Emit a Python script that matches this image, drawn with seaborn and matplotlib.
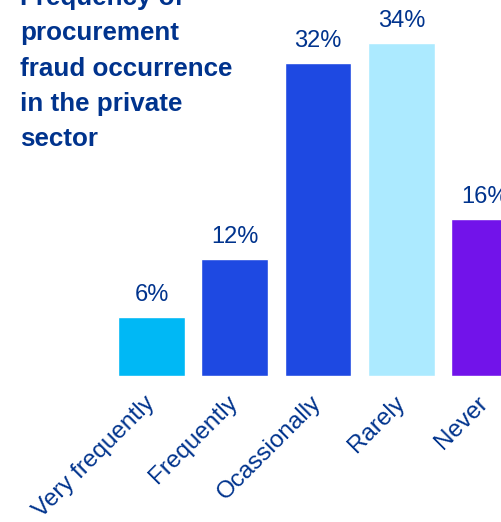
import matplotlib
matplotlib.use("Agg")
import matplotlib.pyplot as plt
import seaborn as sns
import pandas as pd

categories = ["Very frequently", "Frequently", "Ocassionally", "Rarely", "Never"]
shares = [6, 12, 32, 34, 16]
bar_colors = ["#00B8F5", "#1E49E2", "#1E49E2", "#ACEAFF", "#7213EA"]
title_lines = ["Frequency of", "procurement", "fraud occurrence", "in the private", "sector"]

text_blue = "#00338D"

sns.set_theme(style="white")
plt.rcParams["font.family"] = ["Liberation Sans", "DejaVu Sans"]

df = pd.DataFrame({"category": categories, "share": shares})

W, H = 501, 522
fig = plt.figure(figsize=(W / 100, H / 100), dpi=100)
base_px = 376
ax = fig.add_axes([0, (H - base_px) / H, 1, base_px / H])

sns.barplot(data=df, x="category", y="share", hue="category",
            palette=bar_colors, width=0.8, legend=False, ax=ax,
            saturation=1)

ax.set_xlim(-1.82, 4.198)
ax.set_ylim(0, 38.4)
ax.set_xlabel("")
ax.set_ylabel("")
ax.set_yticks([])
for s in ax.spines.values():
    s.set_visible(False)

for x, v in enumerate(shares):
    ax.annotate(f"{v}%", (x, v), xytext=(0, 11.5), textcoords="offset points",
                ha="center", va="baseline", fontsize=17, color=text_blue)

ax.tick_params(axis="x", length=0, pad=17)
plt.setp(ax.get_xticklabels(), rotation=45, ha="right", va="center",
         rotation_mode="anchor", fontsize=17.5, color=text_blue)

for i, line in enumerate(title_lines):
    y_px = 4.5 + 35.5 * i
    fig.text(20 / W, 1 - y_px / H, line, ha="left", va="baseline",
             fontsize=18.7, fontweight="bold", color=text_blue)

fig.savefig("out.png", dpi=100)
